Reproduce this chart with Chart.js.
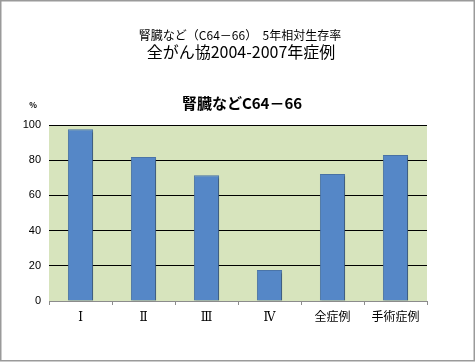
<!DOCTYPE html>
<html>
<head>
<meta charset="utf-8">
<script src="https://cdn.jsdelivr.net/npm/chart.js@4"></script>
<style>
  html, body { margin: 0; padding: 0; background: #fff; }
  #wrap { width: 476px; height: 362px; }
</style>
</head>
<body>
<div id="wrap"><canvas id="survChart" width="476" height="362"></canvas></div>
<script>
var categories = ["Ⅰ", "Ⅱ", "Ⅲ", "Ⅳ", "全症例", "手術症例"];
var survival = [97.6, 81.8, 71.4, 17.6, 72.2, 83.0];
var yTicks = [0, 20, 40, 60, 80, 100];
var headTitle = "腎臓など（C64－66）  5年相対生存率";
var subTitle = "全がん協2004-2007年症例";
var chartTitle = "腎臓などC64－66";
var unitLabel = "%";

var fontJP = "'Noto Sans CJK JP', 'Noto Sans', sans-serif";

var frame = {
    id: "frame",
    beforeDraw: function(chart) {
        var ctx = chart.ctx, a = chart.chartArea;
        ctx.save();
        ctx.fillStyle = "#ffffff";
        ctx.fillRect(0, 0, chart.width, chart.height);
        ctx.strokeStyle = "#9a9a9a";
        ctx.lineWidth = 1.5;
        ctx.strokeRect(0.75, 0.75, chart.width - 2.5, chart.height - 2);
        ctx.fillStyle = "#d7e4bd";
        ctx.fillRect(a.left, a.top, a.right - a.left, a.bottom - a.top);
        ctx.fillStyle = "#000";
        ctx.textAlign = "center";
        ctx.textBaseline = "middle";
        ctx.font = "12px " + fontJP;
        ctx.fillText(headTitle, 240, 35);
        ctx.font = "16px " + fontJP;
        ctx.fillText(subTitle, 241, 52);
        ctx.font = "bold 15px " + fontJP;
        ctx.fillText(chartTitle, 242, 103);
        ctx.font = "bold 8px " + fontJP;
        ctx.fillText(unitLabel, 33, 105);
        ctx.restore();
    },
    beforeDatasetsDraw: function(chart) {
        var ctx = chart.ctx;
        ctx.save();
        ctx.shadowColor = "rgba(0,0,0,0.3)";
        ctx.shadowOffsetX = 1.5;
        ctx.shadowOffsetY = 1.5;
        ctx.shadowBlur = 2;
    },
    afterDatasetsDraw: function(chart) {
        chart.ctx.restore();
    }
};

var cfg = {
    type: "bar",
    data: {
        labels: categories,
        datasets: [{
            data: survival,
            backgroundColor: "#5587c7",
            borderColor: "#4a74a8",
            borderWidth: 1,
            barPercentage: 0.4,
            categoryPercentage: 1.0
        }]
    },
    options: {
        responsive: false,
        animation: false,
        devicePixelRatio: 1,
        layout: { padding: { top: 125, right: 49, bottom: 0, left: 0 } },
        plugins: {
            legend: { display: false },
            tooltip: { enabled: false }
        },
        scales: {
            x: {
                afterFit: function(s) { s.height = 61; },
                border: { display: true, color: "#8c8c8c", width: 1 },
                grid: { display: true, drawOnChartArea: false, tickLength: 4, color: "#8c8c8c", offset: true },
                ticks: { color: "#000", padding: 6, font: { family: "'DejaVu Serif', " + fontJP, size: 12 } }
            },
            y: {
                min: 0,
                max: 100,
                afterFit: function(s) { s.width = 49; },
                afterBuildTicks: function(s) { s.ticks = yTicks.map(function(v) { return { value: v }; }); },
                border: { display: false },
                grid: {
                    drawTicks: false,
                    color: function(c) { return c.tick && c.tick.value === 0 ? "rgba(0,0,0,0)" : "#000"; },
                    lineWidth: 1
                },
                ticks: { color: "#000", padding: 8, font: { family: "'Liberation Sans', Arial, sans-serif", size: 11 } }
            }
        }
    },
    plugins: [frame]
};

window.survChart = new Chart(document.getElementById("survChart"), cfg);
</script>
</body>
</html>
